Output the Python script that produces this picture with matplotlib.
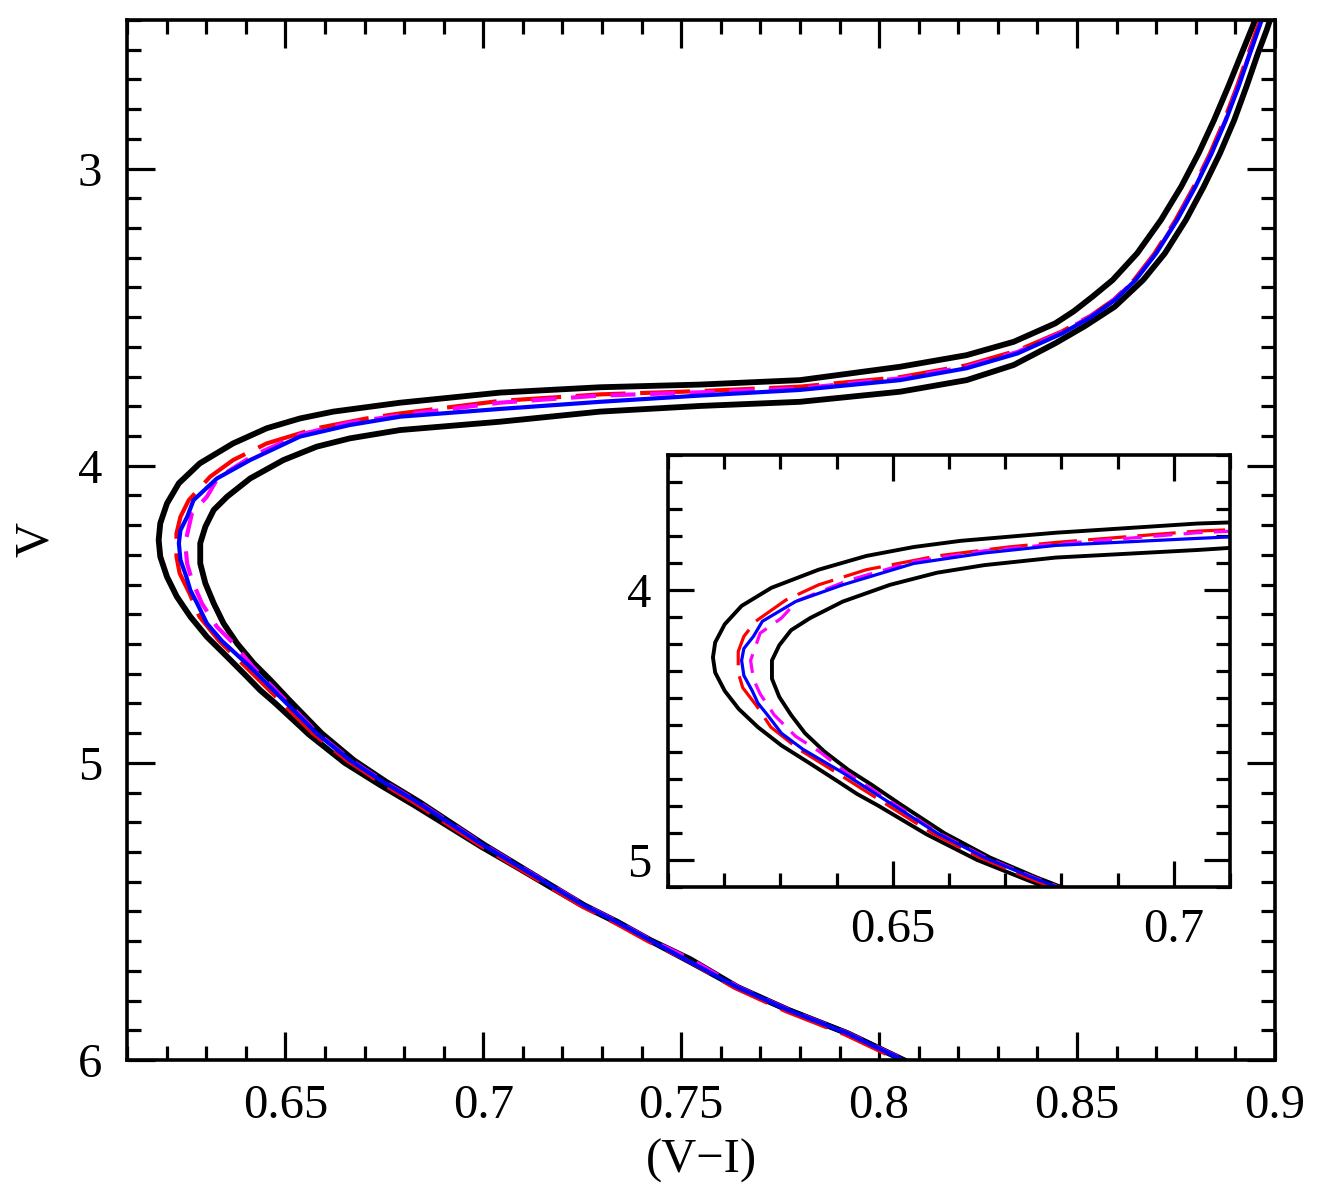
import numpy as np
import matplotlib
matplotlib.use("Agg")
import matplotlib.pyplot as plt
from matplotlib.ticker import MultipleLocator, FuncFormatter

plt.rcParams['font.family'] = ['Liberation Serif', 'DejaVu Serif']

# isochrone readings, (V-I) colour and V magnitude, bright RGB -> faint MS
blue_vi = [0.8980, 0.8962, 0.8937, 0.8908, 0.8876, 0.8840, 0.8799, 0.8753, 0.8700, 0.8648,
           0.8596, 0.8535, 0.8462, 0.8350, 0.8221, 0.8053, 0.7800, 0.7547, 0.7295, 0.7042,
           0.6790, 0.6663, 0.6537, 0.6411, 0.6327, 0.6268, 0.6252, 0.6235, 0.6231, 0.6235,
           0.6250, 0.6260, 0.6277, 0.6302, 0.6340, 0.6411, 0.6495, 0.6579, 0.6663, 0.6747,
           0.6832, 0.6916, 0.7000, 0.7084, 0.7168, 0.7253, 0.7337, 0.7421, 0.7520, 0.7640,
           0.7770, 0.7919, 0.8060, 0.8138]
blue_v = [2.45, 2.517, 2.612, 2.724, 2.837, 2.949, 3.061, 3.173, 3.285, 3.375,
          3.442, 3.500, 3.555, 3.622, 3.672, 3.712, 3.745, 3.764, 3.785, 3.809,
          3.835, 3.863, 3.902, 3.981, 4.043, 4.116, 4.172, 4.217, 4.261, 4.317,
          4.374, 4.419, 4.463, 4.531, 4.590, 4.677, 4.789, 4.901, 4.991, 5.064,
          5.131, 5.204, 5.277, 5.344, 5.411, 5.479, 5.535, 5.597, 5.668, 5.754,
          5.832, 5.91, 6.0, 6.05]

red_vi = [0.8976, 0.8958, 0.8933, 0.8904, 0.8872, 0.8836, 0.8795, 0.8749, 0.8696, 0.8644,
          0.8594, 0.8535, 0.8462, 0.8350, 0.8221, 0.8053, 0.7800, 0.7547, 0.7295, 0.7042,
          0.6790, 0.6705, 0.6579, 0.6453, 0.6368, 0.6310, 0.6256, 0.6235, 0.6225, 0.6225,
          0.6233, 0.6258, 0.6283, 0.6333, 0.6400, 0.6485, 0.6570, 0.6655, 0.6740, 0.6826,
          0.6910, 0.6995, 0.7079, 0.7163, 0.7248, 0.7332, 0.7416, 0.7515, 0.7635, 0.7765,
          0.7914, 0.8055, 0.8135]
red_v = [2.45, 2.517, 2.612, 2.724, 2.837, 2.949, 3.061, 3.173, 3.285, 3.375,
         3.440, 3.495, 3.548, 3.612, 3.662, 3.702, 3.734, 3.749, 3.760, 3.782,
         3.824, 3.841, 3.874, 3.925, 3.981, 4.037, 4.116, 4.172, 4.228, 4.306,
         4.362, 4.430, 4.508, 4.590, 4.677, 4.789, 4.901, 4.991, 5.066, 5.134,
         5.207, 5.280, 5.347, 5.414, 5.482, 5.538, 5.600, 5.664, 5.757, 5.836,
         5.914, 6.003, 6.053]

mag_vi = [0.8979, 0.8961, 0.8936, 0.8907, 0.8875, 0.8839, 0.8798, 0.8752, 0.8699, 0.8647,
          0.8595, 0.8535, 0.8462, 0.8350, 0.8221, 0.8053, 0.7800, 0.7547, 0.7295, 0.7042,
          0.6790, 0.6663, 0.6537, 0.6420, 0.6330, 0.6302, 0.6264, 0.6247, 0.6252, 0.6264,
          0.6289, 0.6327, 0.6369, 0.6418, 0.6500, 0.6582, 0.6666, 0.6750, 0.6835, 0.6919,
          0.7003, 0.7087, 0.7171, 0.7256, 0.7340, 0.7424, 0.7523, 0.7643, 0.7773, 0.7922,
          0.8063, 0.8141]
mag_v = [2.45, 2.517, 2.612, 2.724, 2.837, 2.949, 3.061, 3.173, 3.285, 3.375,
         3.440, 3.497, 3.551, 3.617, 3.667, 3.706, 3.740, 3.753, 3.764, 3.788,
         3.830, 3.855, 3.895, 3.965, 4.040, 4.104, 4.160, 4.261, 4.330, 4.385,
         4.463, 4.542, 4.598, 4.677, 4.789, 4.901, 4.991, 5.064, 5.131, 5.204,
         5.277, 5.344, 5.411, 5.479, 5.535, 5.597, 5.66, 5.754, 5.832, 5.91,
         6.0, 6.05]

# outer envelope (bright / blue side)
blka_vi = [0.8963, 0.8945, 0.8916, 0.8882, 0.8846, 0.8807, 0.8763, 0.8712, 0.8652, 0.8590,
           0.8540, 0.8492, 0.8445, 0.8340, 0.8221, 0.8053, 0.7800, 0.7547, 0.7295, 0.7042,
           0.6790, 0.6621, 0.6537, 0.6453, 0.6368, 0.6284, 0.6231, 0.6201, 0.6184, 0.6180,
           0.6184, 0.6201, 0.6226, 0.6260, 0.6302, 0.6353, 0.6403, 0.6436, 0.6475, 0.6560,
           0.6650, 0.6740, 0.6825, 0.6910, 0.6996, 0.7082, 0.7166, 0.7252, 0.7337, 0.7421,
           0.7520, 0.7640, 0.7770, 0.7919, 0.8060, 0.8140]
blka_v = [2.45, 2.517, 2.612, 2.724, 2.837, 2.949, 3.061, 3.173, 3.285, 3.375,
          3.430, 3.480, 3.521, 3.583, 3.628, 3.667, 3.712, 3.727, 3.736, 3.754,
          3.788, 3.818, 3.841, 3.874, 3.925, 3.992, 4.059, 4.127, 4.194, 4.250,
          4.306, 4.374, 4.441, 4.508, 4.576, 4.643, 4.710, 4.755, 4.800, 4.905,
          5.0, 5.075, 5.142, 5.212, 5.283, 5.349, 5.415, 5.481, 5.537, 5.598,
          5.668, 5.755, 5.832, 5.91, 6.0, 6.05]

# inner envelope (faint / red side)
blkb_vi = [0.9000, 0.8979, 0.8957, 0.8928, 0.8897, 0.8861, 0.8820, 0.8775, 0.8722, 0.8667,
           0.8595, 0.8520, 0.8445, 0.8340, 0.8221, 0.8053, 0.7800, 0.7547, 0.7295, 0.7042,
           0.6790, 0.6663, 0.6579, 0.6495, 0.6411, 0.6353, 0.6319, 0.6298, 0.6285, 0.6285,
           0.6298, 0.6319, 0.6344, 0.6378, 0.6420, 0.6462, 0.6510, 0.6592, 0.6673, 0.6755,
           0.6838, 0.6921, 0.7004, 0.7087, 0.7170, 0.7255, 0.7339, 0.7423, 0.7522, 0.7642,
           0.7772, 0.7921, 0.8062, 0.8142]
blkb_v = [2.45, 2.534, 2.612, 2.724, 2.837, 2.949, 3.061, 3.173, 3.285, 3.375,
          3.465, 3.530, 3.588, 3.661, 3.712, 3.751, 3.785, 3.799, 3.818, 3.852,
          3.880, 3.908, 3.936, 3.981, 4.043, 4.104, 4.149, 4.205, 4.261, 4.329,
          4.396, 4.463, 4.531, 4.598, 4.665, 4.721, 4.789, 4.901, 4.991, 5.064,
          5.131, 5.204, 5.277, 5.344, 5.411, 5.479, 5.535, 5.597, 5.66, 5.754,
          5.832, 5.91, 6.0, 6.05]

main_xticks = [0.65, 0.7, 0.75, 0.8, 0.85, 0.9]
main_yticks = [3, 4, 5, 6]
inset_xticks = [0.65, 0.7]
inset_yticks = [4, 5]


def draw_curves(ax, lw_blk, lw_col):
    ax.plot(blka_vi, blka_v, color='black', lw=lw_blk)
    ax.plot(blkb_vi, blkb_v, color='black', lw=lw_blk)
    ax.plot(red_vi, red_v, color='red', lw=lw_col, dashes=(12, 3.5))
    ax.plot(mag_vi, mag_v, color='magenta', lw=lw_col, dashes=(6, 3.5))
    ax.plot(blue_vi, blue_v, color='blue', lw=lw_col)


def style_axes(ax, major_len, minor_len, pad_x, pad_y, fs):
    for s in ax.spines.values():
        s.set_linewidth(2.6)
    ax.xaxis.set_minor_locator(MultipleLocator(0.01))
    ax.yaxis.set_minor_locator(MultipleLocator(0.1))
    ax.xaxis.set_major_formatter(FuncFormatter(lambda v, p: '%g' % round(v, 3)))
    ax.yaxis.set_major_formatter(FuncFormatter(lambda v, p: '%g' % round(v, 3)))
    ax.tick_params(which='both', direction='in', top=True, right=True, width=2.3)
    ax.tick_params(which='major', length=major_len)
    ax.tick_params(which='minor', length=minor_len)
    ax.tick_params(axis='x', which='major', pad=pad_x, labelsize=fs)
    ax.tick_params(axis='y', which='major', pad=pad_y, labelsize=fs)


fig = plt.figure(figsize=(13.23, 11.96), dpi=100)

ax = fig.add_axes([0.096, 0.1137, 0.8677, 0.8696])
draw_curves(ax, 4.2, 3.0)
ax.set_xlim(0.61, 0.9)
ax.set_ylim(6, 2.5)
ax.set_xticks(main_xticks)
ax.set_yticks(main_yticks)
style_axes(ax, 20, 10, 17, 18, 35)
ax.set_xlabel('(V\u2212I)', fontsize=35, labelpad=8)
ax.set_ylabel('V', fontsize=35, labelpad=14)

axin = fig.add_axes([0.5049, 0.2584, 0.4248, 0.3612])
draw_curves(axin, 2.8, 2.3)
axin.set_xlim(0.61, 0.71)
axin.set_ylim(5.1, 3.5)
axin.set_xticks(inset_xticks)
axin.set_yticks(inset_yticks)
style_axes(axin, 19, 10, 15, 12, 35)
axin.patch.set_facecolor('white')

fig.savefig('out.png', dpi=100)
